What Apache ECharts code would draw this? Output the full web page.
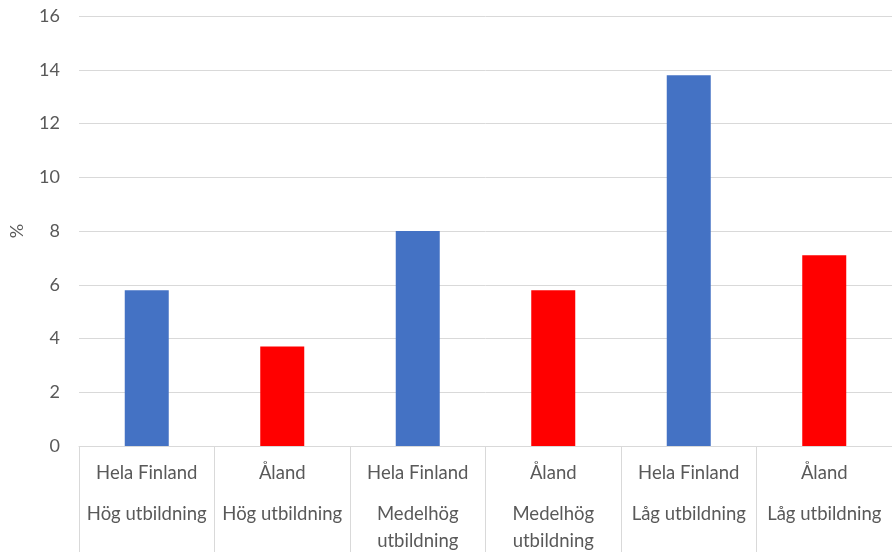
<!DOCTYPE html>
<html>
<head>
<meta charset="utf-8">
<script src="https://cdn.jsdelivr.net/npm/echarts@6/dist/echarts.min.js"></script>
<style>html,body{margin:0;padding:0;background:#fff;}#c{width:892px;height:552px;}</style>
</head>
<body>
<div id="c"></div>
<script>
const regions = ['Hela Finland', 'Åland', 'Hela Finland', 'Åland', 'Hela Finland', 'Åland'];
const education = ['Hög utbildning', 'Hög utbildning', 'Medelhög\nutbildning', 'Medelhög\nutbildning', 'Låg utbildning', 'Låg utbildning'];
const values = [5.8, 3.7, 8.0, 5.8, 13.8, 7.1];
const yTicks = [0, 2, 4, 6, 8, 10, 12, 14, 16];
const regionColors = { 'Hela Finland': '#4472C4', 'Åland': '#FF0000' };

const categories = regions.map((r, i) => r + '|' + education[i]);
const chart = echarts.init(document.getElementById('c'), null, { renderer: 'canvas' });
const FONT = 'Lato';
chart.setOption({
  animation: false,
  backgroundColor: '#ffffff',
  grid: { left: 79, right: 0, top: 16, bottom: 106, containLabel: false, outerBoundsMode: 'none' },
  xAxis: {
    type: 'category',
    data: categories,
    axisLine: { show: true, lineStyle: { color: '#d9d9d9', width: 1 } },
    axisTick: { show: true, alignWithLabel: false, length: 110, lineStyle: { color: '#d9d9d9', width: 1 } },
    axisLabel: {
      interval: 0,
      margin: 14,
      align: 'center',
      hideOverlap: false,
      formatter: function (v) {
        const p = v.split('|');
        const lines = p[1].split('\n').map(s => '{b|' + s + '}').join('\n');
        return '{a|' + p[0] + '}\n{s| }\n' + lines;
      },
      rich: {
        a: { fontFamily: FONT, fontSize: 18.5, color: '#595959', lineHeight: 27, align: 'center' },
        s: { fontSize: 4, lineHeight: 14 },
        b: { fontFamily: FONT, fontSize: 18.5, color: '#595959', lineHeight: 27, align: 'center' }
      }
    },
    splitLine: { show: false }
  },
  yAxis: {
    type: 'value',
    min: yTicks[0],
    max: yTicks[yTicks.length - 1],
    interval: yTicks[1] - yTicks[0],
    name: '%',
    nameLocation: 'middle',
    nameGap: 53,
    nameRotate: 90,
    nameTextStyle: { fontFamily: FONT, fontSize: 18, color: '#595959' },
    axisLine: { show: false },
    axisTick: { show: false },
    axisLabel: { fontFamily: FONT, fontSize: 18, color: '#595959', margin: 19 },
    splitLine: { show: true, lineStyle: { color: '#d9d9d9', width: 1 } }
  },
  series: [{
    type: 'bar',
    data: values.map((v, i) => ({ value: v, itemStyle: { color: regionColors[regions[i]] } })),
    barWidth: 44
  }]
});
</script>
</body>
</html>
